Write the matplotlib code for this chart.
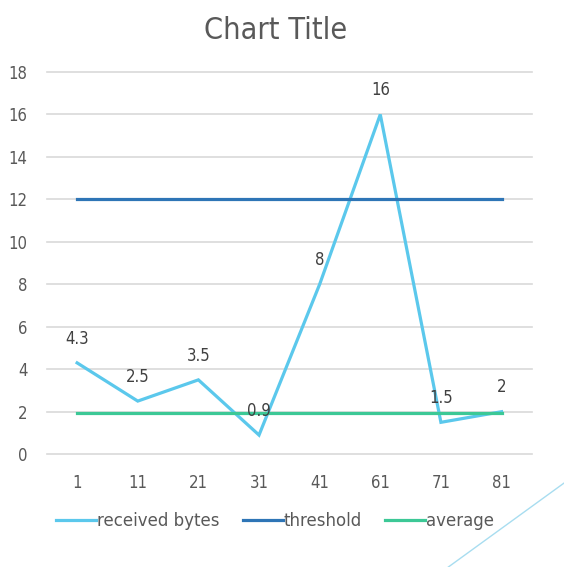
from matplotlib import pyplot as plt
from matplotlib.lines import Line2D

# data -----------------------------------------------------------------------
categories = ['1', '11', '21', '31', '41', '61', '71', '81']
received_bytes = [4.3, 2.5, 3.5, 0.9, 8, 16, 1.5, 2]
threshold = [12, 12, 12, 12, 12, 12, 12, 12]
average = [1.95, 1.95, 1.95, 1.95, 1.95, 1.95, 1.95, 1.95]
y_ticks = [0, 2, 4, 6, 8, 10, 12, 14, 16, 18]

TEXT = '#595959'
FONT = dict(family='DejaVu Sans', stretch='condensed')


def main():
    fig = plt.figure(figsize=(5.64, 5.67), dpi=100)
    ax = fig.add_axes([0.083, 0.199, 0.86, 0.674])
    x = list(range(len(categories)))

    ax.plot(x, received_bytes, color='#5BC8EC', lw=2.3, label='received bytes', solid_joinstyle='miter')
    ax.plot(x, threshold, color='#2E75B6', lw=2.3, label='threshold')
    ax.plot(x, average, color='#3CC896', lw=2.3, label='average')

    for xi, v in zip(x, received_bytes):
        ax.annotate(f'{v:g}', (xi, v), xytext=(0, 11), textcoords='offset points',
                    ha='center', va='bottom', color='#404040', fontsize=12, **FONT)

    ax.set_xlim(-0.5, len(categories) - 0.5)
    ax.set_ylim(0, 18)
    ax.set_yticks(y_ticks)
    ax.set_xticks(x)
    ax.set_xticklabels(categories)
    ax.grid(axis='y', color='#D9D9D9', lw=1.2)
    ax.set_axisbelow(True)
    for g in ax.get_ygridlines():
        g.set_clip_on(False)
    for s in ax.spines.values():
        s.set_visible(False)
    ax.tick_params(length=0, colors=TEXT, labelsize=12)
    ax.tick_params(axis='x', pad=14)
    ax.tick_params(axis='y', pad=14)
    for lab in ax.get_xticklabels() + ax.get_yticklabels():
        lab.set_fontstretch('condensed')

    fig.text(0.488, 0.947, 'Chart Title', ha='center', va='center', color=TEXT, fontsize=22, **FONT)

    leg = ax.legend(loc='center', bbox_to_anchor=(0.488, 0.081), bbox_transform=fig.transFigure,
                    ncol=3, frameon=False, handlelength=2.4, handletextpad=0.05, columnspacing=1.4,
                    prop=dict(size=12, family='DejaVu Sans', stretch='semi-condensed'))
    for t in leg.get_texts():
        t.set_color(TEXT)

    # decorative slide line
    fig.add_artist(Line2D([0.795, 1.0], [0.0, 0.148], transform=fig.transFigure, color='#A8DDF0', lw=1))

    fig.savefig('out.png', dpi=100)


if __name__ == '__main__':
    main()
